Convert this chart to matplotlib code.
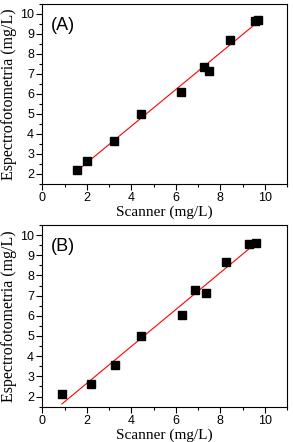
import matplotlib
matplotlib.use("Agg")
import matplotlib.pyplot as plt
from matplotlib.ticker import MultipleLocator
import numpy as np

# Panel A data
scanner_a = [1.57, 1.99, 3.23, 4.45, 6.24, 7.25, 7.50, 8.43, 9.57, 9.70]
espectro_a = [2.18, 2.66, 3.63, 5.02, 6.08, 7.36, 7.16, 8.72, 9.63, 9.70]

# Panel B data
scanner_b = [0.88, 2.20, 3.26, 4.45, 6.29, 6.87, 7.35, 8.26, 9.30, 9.60]
espectro_b = [2.12, 2.61, 3.56, 5.02, 6.05, 7.28, 7.15, 8.69, 9.58, 9.63]

panel_labels = ["(A)", "(B)"]

SERIF = "Liberation Serif"
SANS = "Liberation Sans"

fig = plt.figure(figsize=(2.93, 4.42), dpi=100)
positions = [[0.1445, 0.584, 0.835, 0.407], [0.1445, 0.080, 0.835, 0.411]]

for pos, xs, ys, lab in zip(positions, [scanner_a, scanner_b],
                            [espectro_a, espectro_b], panel_labels):
    ax = fig.add_axes(pos)
    xs = np.array(xs)
    ys = np.array(ys)
    # linear fit drawn across the data range
    m, b = np.polyfit(xs, ys, 1)
    xl = np.array([xs.min(), xs.max()])
    ax.plot(xl, m * xl + b, color="red", lw=0.8, zorder=2)
    ax.plot(xs, ys, "s", color="black", markersize=5.5, zorder=3)

    ax.set_xlim(0, 11)
    ax.set_ylim(1.5, 10.5)
    ax.xaxis.set_major_locator(MultipleLocator(2))
    ax.xaxis.set_minor_locator(MultipleLocator(1))
    ax.yaxis.set_major_locator(MultipleLocator(1))
    ax.yaxis.set_minor_locator(MultipleLocator(0.5))
    ax.tick_params(which="major", direction="out", length=4, width=0.8,
                   labelsize=9, pad=2)
    ax.tick_params(which="minor", direction="out", length=2, width=0.8)
    for t in ax.get_xticklabels() + ax.get_yticklabels():
        t.set_fontfamily(SANS)
    for s in ax.spines.values():
        s.set_linewidth(0.8)

    ax.set_xlabel("Scanner (mg/L)", fontfamily=SERIF, fontsize=11, labelpad=1)
    ax.set_ylabel("Espectrofotometria (mg/L)", fontfamily=SERIF, fontsize=11.5,
                  labelpad=2)
    ax.text(0.035, 0.93, lab, transform=ax.transAxes, fontfamily=SANS,
            fontsize=13, ha="left", va="top")

fig.savefig("out.png", dpi=100, facecolor="white")
